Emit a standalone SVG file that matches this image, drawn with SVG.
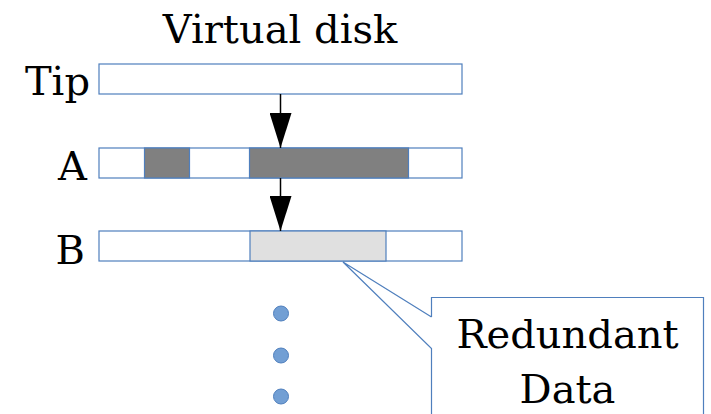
<svg xmlns="http://www.w3.org/2000/svg" width="711" height="414" viewBox="0 0 711 414">
  <defs>
    <style>
      .lbl { font-family: "DejaVu Serif", "Liberation Serif", serif; font-size: 40px; fill: #000; }
      .bar { fill: #fff; stroke: #4f7fbd; stroke-width: 1.2; }
      .used { fill: #808080; stroke: #4f7fbd; stroke-width: 1.2; }
      .dup { fill: #e0e0e0; stroke: #4f7fbd; stroke-width: 1.2; }
      .link { stroke: #000; stroke-width: 1.5; fill: none; }
      .dot { fill: #729fd4; stroke: #4f7fbd; stroke-width: 1; }
    </style>
    <!-- solid triangle head: 35 long, 22 wide -->
    <marker id="head" viewBox="0 0 35 22" refX="35" refY="11" markerWidth="35" markerHeight="22" markerUnits="userSpaceOnUse" orient="auto">
      <path d="M0,0 L35,11 L0,22 Z" fill="#000"/>
    </marker>
  </defs>

  <text class="lbl" x="280" y="43" text-anchor="middle">Virtual disk</text>

  <g id="tip">
    <text class="lbl" x="90" y="95" text-anchor="end">Tip</text>
    <rect class="bar" x="99" y="64" width="363" height="30"/>
  </g>

  <g id="a">
    <text class="lbl" x="87" y="180" text-anchor="end">A</text>
    <rect class="bar" x="99" y="148" width="363" height="30"/>
    <rect class="used" x="144.5" y="148" width="45" height="30"/>
    <rect class="used" x="249.5" y="148" width="159" height="30"/>
  </g>

  <g id="b">
    <text class="lbl" x="85" y="264" text-anchor="end">B</text>
    <rect class="bar" x="99" y="231" width="363" height="30"/>
    <rect class="dup" x="250" y="231" width="136" height="30"/>
  </g>

  <g id="more">
    <circle class="dot" cx="281" cy="313.5" r="7.5"/>
    <circle class="dot" cx="281" cy="355.5" r="7.5"/>
    <circle class="dot" cx="281" cy="396.5" r="7.5"/>
  </g>

  <g id="callout">
    <path d="M432,298 L703,298 L703,420 L432,420 L432,348 L343.5,262.5 L432,317 Z" fill="#fff" stroke="none"/>
    <path d="M431.5,317 L343,262 L431.5,348.5 L431.5,420 M431.5,317 L431.5,297.5 L703.5,297.5 L703.5,420" fill="none" stroke="#4f7fbd" stroke-width="1.2"/>
    <text class="lbl" x="567.5" y="348" text-anchor="middle">Redundant</text>
    <text class="lbl" x="567.5" y="403" text-anchor="middle">Data</text>
  </g>

  <g id="connectors">
    <line class="link" x1="280.5" y1="94" x2="280.5" y2="148" marker-end="url(#head)"/>
    <line class="link" x1="280.5" y1="178" x2="280.5" y2="231" marker-end="url(#head)"/>
  </g>
</svg>
